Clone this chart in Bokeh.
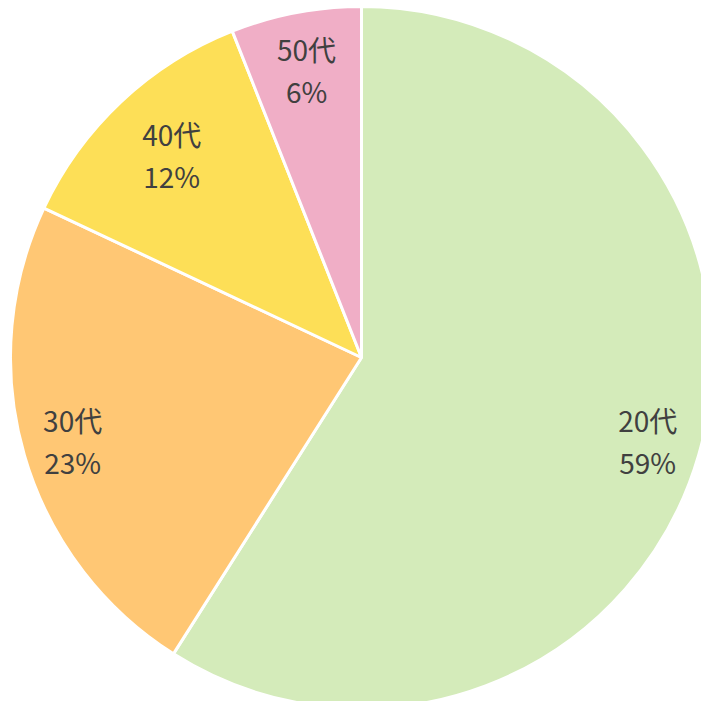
import numpy as np
from bokeh.plotting import figure
from bokeh.models import ColumnDataSource
from bokeh.core.properties import value
from bokeh.embed import file_html
from bokeh.resources import INLINE

categories = ["20代", "30代", "40代", "50代"]
shares = [59, 23, 12, 6]
colors = ["#D4EBBA", "#FFC774", "#FDDF57", "#F0AEC6"]

W = 701
cx, cy, R = 361, 344, 351
label_r = np.array([0.849, 0.857, 0.79, 0.835])

vals = np.array(shares, dtype=float)
frac = vals / vals.sum()
cum = np.concatenate([[0], np.cumsum(frac)])
start = np.pi / 2 - cum[1:] * 2 * np.pi
end = np.pi / 2 - cum[:-1] * 2 * np.pi
mid = (start + end) / 2
lr = label_r * R
lx = cx + lr * np.cos(mid)
ly = cy + lr * np.sin(mid)

src = ColumnDataSource(dict(
    start=start, end=end, color=colors,
    lx=lx, ly=ly, cat=categories,
    pct=[f"{s}%" for s in shares],
))

p = figure(width=W, height=W, x_range=(0, W), y_range=(0, W),
           output_backend="svg", toolbar_location=None, min_border=0)
p.axis.visible = False
p.grid.visible = False
p.outline_line_color = None
p.background_fill_color = "white"

p.wedge(x=cx, y=cy, radius=R, start_angle="start", end_angle="end",
        fill_color="color", line_color="white", line_width=3, source=src)

font = value("Noto Sans CJK JP")
p.text(x="lx", y="ly", text="cat", source=src, text_font=font,
       text_font_size="28px", text_color="#404040", text_align="center",
       text_baseline="middle", y_offset=-21)
p.text(x="lx", y="ly", text="pct", source=src, text_font=font,
       text_font_size="28px", text_color="#404040", text_align="center",
       text_baseline="middle", y_offset=21)

open("out.html", "w").write(file_html(p, INLINE))
